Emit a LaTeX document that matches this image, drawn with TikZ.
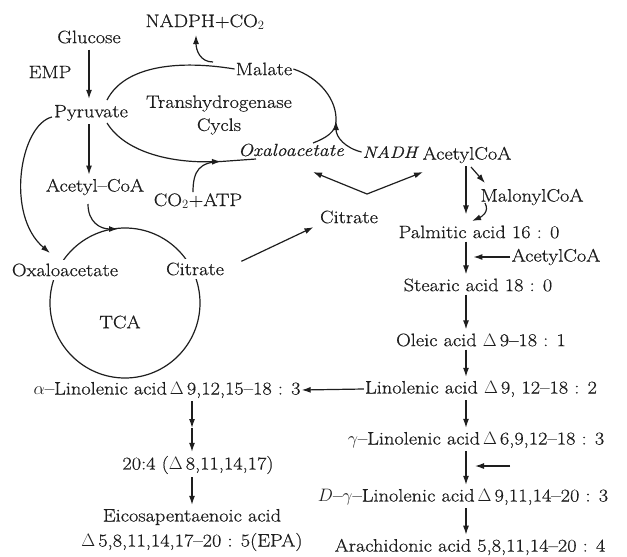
\RequirePackage{fix-cm}
\documentclass[tikz,border=0pt]{standalone}
\usepackage{fontspec}
\setmainfont{Latin Modern Roman}[FakeStretch=1.13, FakeBold=0.6]
\usetikzlibrary{arrows.meta,calc}
\definecolor{ink}{HTML}{1E1E1E}
\begin{document}
\begin{tikzpicture}[x=1pt,y=-1pt,
  lbl/.style={font=\fontsize{18}{25}\selectfont, inner sep=1pt, text=ink},
  cut/.style={lbl, fill=white, inner ysep=4pt},
  arr/.style={draw=ink, line width=1.2pt, -{Latex[length=9pt,width=6pt]}},
  varr/.style={arr, shorten <=2pt, shorten >=3pt},
  ln/.style={draw=ink, line width=1.2pt}]
\useasboundingbox (0,0) rectangle (627,557);
\coordinate (vx) at (466,0);
% TCA circle
\node[draw=ink, line width=1.2pt, circle, minimum size=150pt, inner sep=0pt] (tcac) at (125,303) {};
% labels
\node[lbl] (nadph) at (205,22) {NADPH+CO$_2$};
\node[lbl] (glu) at (89,37) {Glucose};
\node[lbl] (emp) at (50,72) {EMP};
\node[lbl] (mal) at (264,69) {Malate};
\node[lbl] (pyr) at (91,113) {Pyruvate};
\node[lbl, align=center, font=\fontsize{18}{23}\selectfont] (trans) at (219,115) {Transhydrogenase\\Cycls};
\node[lbl, font=\fontsize{17.5}{25}\selectfont\itshape] (oxaT) at (291,150) {Oxaloacetate};
\node[lbl, font=\fontsize{16.5}{25}\selectfont\itshape] (nadh) at (390,152) {NADH};
\node[lbl] (acT) at (467,155) {AcetylCoA};
\node[lbl] (acl) at (95,187) {Acetyl--CoA};
\node[lbl] (co2) at (198,201) {CO$_2$+ATP};
\node[lbl] (malo) at (532,197) {MalonylCoA};
\node[lbl] (citM) at (349,217) {Citrate};
\node[lbl] (palm) at (479,232) {Palmitic acid 16 : 0};
\node[lbl] (acB) at (556,257) {AcetylCoA};
\node[lbl] (ste) at (478,285) {Stearic acid 18 : 0};
\node[cut] (oxaL) at (65,270) {Oxaloacetate};
\node[cut] (citL) at (195,269) {Citrate};
\node[lbl] (tca) at (120,322) {TCA};
\node[lbl] (ole) at (481,340) {Oleic acid $\Delta$\,9--18 : 1};
\node[lbl] (alpha) at (167,390) {$\alpha$--Linolenic acid\,$\Delta$\,9,12,15--18 : 3};
\node[lbl] (lin) at (481,389) {Linolenic acid $\Delta$\,9, 12--18 : 2};
\node[lbl] (gam) at (476,440) {$\gamma$--Linolenic acid\,$\Delta$\,6,9,12--18 : 3};
\node[lbl] (twenty) at (198,465) {20:4 ($\Delta$\,8,11,14,17)};
\node[lbl] (dgam) at (463,497) {$D$--$\gamma$--Linolenic acid\,$\Delta$\,9,11,14--20 : 3};
\node[lbl, align=center] (epa) at (192,530) {Eicosapentaenoic acid\\$\Delta$\,5,8,11,14,17--20 : 5(EPA)};
\node[lbl] (ara) at (470,547) {Arachidonic acid 5,8,11,14--20 : 4};
% coordinates on curves
\coordinate (pyrA) at (107,100);
\coordinate (pyrB) at (107,123);
\coordinate (pyrL) at (52,117);
\coordinate (jN) at (213,62);
\coordinate (jM) at (336,121);
\coordinate (jA) at (221,161.5);
\coordinate (v) at (367,194);
% EMP and pyruvate
\draw[varr, shorten <=5pt, shorten >=5pt] (glu.south) -- (glu.south |- pyr.north);
\draw[varr] (pyr.south) ++(-2,0) coordinate (ps) -- (ps |- acl.north);
\draw[arr] (pyrL) .. controls (20,125) and (5,215) .. (50,253);
\draw[arr] (88,204) .. controls (88,222) and (100,229) .. (118,229);
% transhydrogenase cycle
\draw[ln] (pyrA) .. controls (125,65) and (180,60) .. (mal.west);
\draw[arr] (jN) .. controls (200,62) and (196,50) .. (196,35);
\draw[ln] (mal.east) .. controls (320,78) and (337,100) .. (jM);
\draw[ln] (313,143) .. controls (326,138) and (336,132) .. (jM);
\draw[arr] (nadh.west) .. controls (345,148) and (336,137) .. (jM);
\draw[arr] (pyrB) .. controls (125,152) and (170,163) .. (jA);
\draw[ln] (jA) -- (256,159);
\draw[ln] (co2.north) ++(-5,0) .. controls (193,170) and (200,162) .. (jA);
% citrate export
\draw[arr, shorten <=18pt, shorten >=6pt] (citL.east) -- (citM.south west);
\draw[arr] (v) -- (313,172);
\draw[arr] (v) -- (423,172);
% fatty acid chain
\draw[varr, shorten >=10pt] (acT.south -| vx) -- (palm.north -| vx);
\draw[arr] (471,167) -- (485,183);
\draw[arr] (485,203) .. controls (490,212) and (481,217) .. (472,221);
\draw[varr] (palm.south -| vx) -- (ste.north -| vx);
\draw[arr] (acB.west) -- ++(-37,0);
\draw[varr] (ste.south -| vx) -- (ole.north -| vx);
\draw[varr] (ole.south -| vx) -- (lin.north -| vx);
\draw[arr] (lin.west) -- (alpha.east);
\draw[varr] (lin.south -| vx) -- (gam.north -| vx);
\draw[varr] (gam.south -| vx) -- (dgam.north -| vx);
\draw[arr] (510,466) -- (475,466);
\draw[varr] (dgam.south -| vx) -- (ara.north -| vx);
% omega-3 branch
\coordinate (ax) at (192,0);
\coordinate (mid) at (192,428);
\draw[arr, shorten <=2pt] (alpha.south -| ax) -- (mid);
\draw[varr, shorten <=0pt] (mid) -- (twenty.north -| ax);
\draw[varr] (twenty.south -| ax) -- (epa.north -| ax);
\end{tikzpicture}
\end{document}
